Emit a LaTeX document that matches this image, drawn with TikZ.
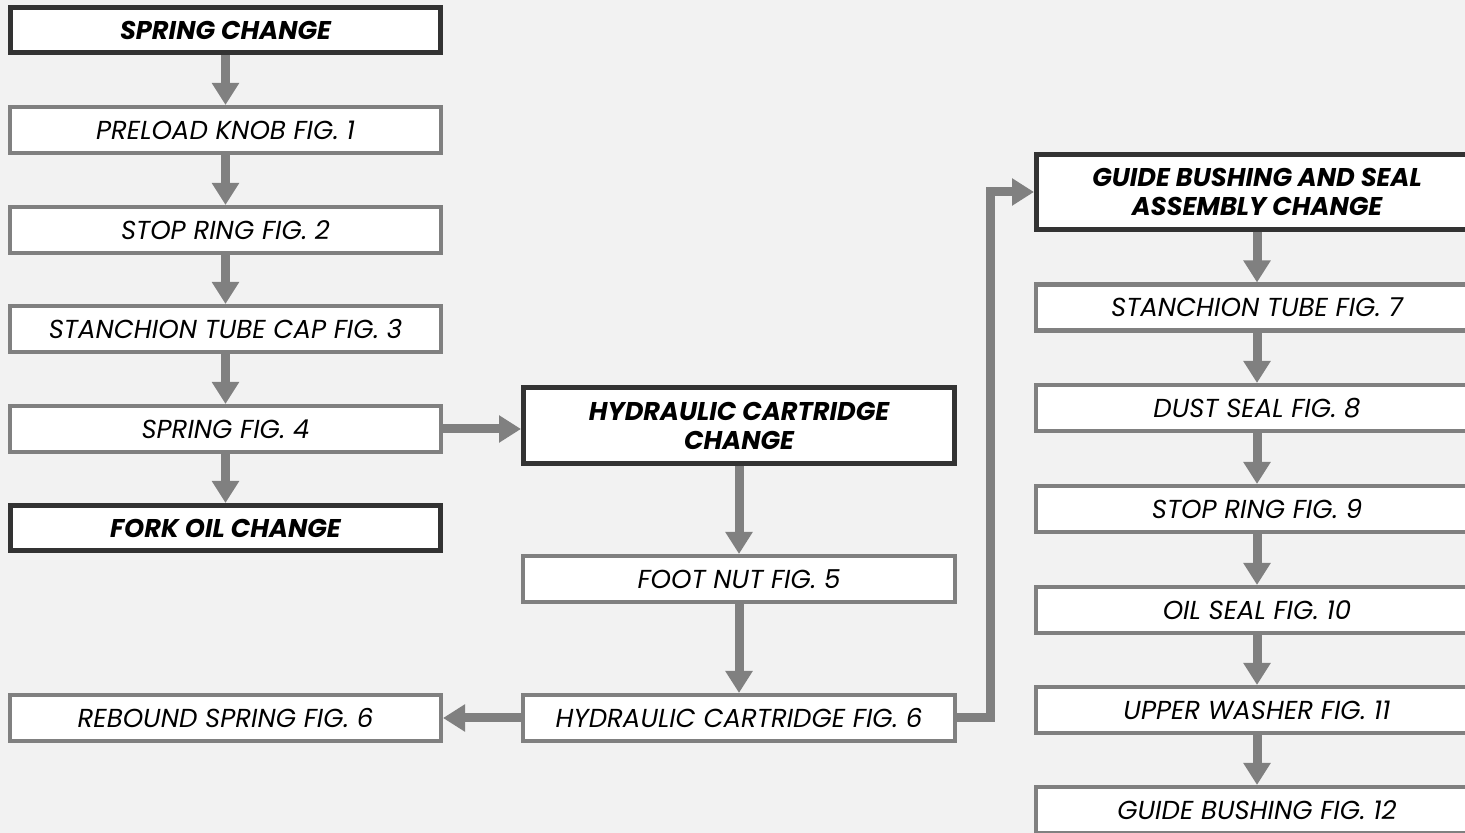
\documentclass[tikz,border=0pt]{standalone}
\usepackage{fontspec}
\setmainfont{Poppins}
\usetikzlibrary{arrows.meta,positioning}
\definecolor{bggray}{RGB}{242,242,242}
\definecolor{boxgray}{RGB}{128,128,128}
\definecolor{headdark}{RGB}{51,51,51}

\begin{document}
\begin{tikzpicture}[x=1cm,y=1cm,font=\itshape\fontsize{14.8}{16.5}\selectfont,
item/.style={draw=boxgray,line width=2.3pt,fill=white,align=center,inner sep=2pt,minimum width=8.62cm,minimum height=.92cm},
head/.style={item,draw=headdark,line width=2.85pt,font=\bfseries\itshape\fontsize{14.6}{16.5}\selectfont,minimum width=8.6cm,minimum height=.9cm},
flow/.style={-{Triangle[width=.52cm,length=.44cm]},line width=.18cm,draw=boxgray}]

\path[use as bounding box](0,0)rectangle(29.3,16.66);
\fill[bggray](0,0)rectangle(29.3,16.66);
\clip(0,0)rectangle(29.3,16.66);

% spring side
\node[head](spring)at(4.51,16.06){SPRING CHANGE};
\node[item](preload)at(4.51,14.06){PRELOAD KNOB FIG. 1};
\node[item](stopring)at(4.51,12.06){STOP RING FIG. 2};
\node[item](tubecap)at(4.51,10.08){STANCHION TUBE CAP FIG. 3};
\node[item](springfig)at(4.51,8.08){SPRING FIG. 4};
\node[head](forkoil)at(4.51,6.10){FORK OIL CHANGE};
\node[item](rebound)at(4.51,2.30){REBOUND SPRING FIG. 6};

% cartridge
\node[head,minimum width=8.62cm,minimum height=1.52cm](cartridge)at(14.78,8.15){HYDRAULIC CARTRIDGE\\CHANGE};
\node[item,minimum width=8.64cm](footnut)at(14.78,5.08){FOOT NUT FIG. 5};
\node[item,minimum width=8.64cm](cartfig)at(14.78,2.30){HYDRAULIC CARTRIDGE FIG. 6};

% guide bushing
\node[head,minimum width=8.82cm,minimum height=1.5cm](guide)at(25.14,12.82){GUIDE BUSHING AND SEAL\\ASSEMBLY CHANGE};
\node[item,minimum width=8.84cm](tube)at(25.14,10.51){STANCHION TUBE FIG. 7};
\node[item,minimum width=8.84cm](dust)at(25.14,8.50){DUST SEAL FIG. 8};
\node[item,minimum width=8.84cm](stopnine)at(25.14,6.48){STOP RING FIG. 9};
\node[item,minimum width=8.84cm](oilseal)at(25.14,4.46){OIL SEAL FIG. 10};
\node[item,minimum width=8.84cm](washer)at(25.14,2.46){UPPER WASHER FIG. 11};
\node[item,minimum width=8.84cm](bushing)at(25.14,.46){GUIDE BUSHING FIG. 12};

\foreach \a/\b in {spring/preload,preload/stopring,stopring/tubecap,tubecap/springfig,springfig/forkoil,cartridge/footnut,footnut/cartfig,guide/tube,tube/dust,dust/stopnine,stopnine/oilseal,oilseal/washer,washer/bushing}
  \draw[flow](\a)--(\b);
\draw[flow](springfig.east)--(springfig.east-|cartridge.west);
\draw[flow](cartfig.west)--(rebound.east);
\draw[flow](cartfig.east)--++(.66,0)|-(guide.west);
\end{tikzpicture}
\end{document}
